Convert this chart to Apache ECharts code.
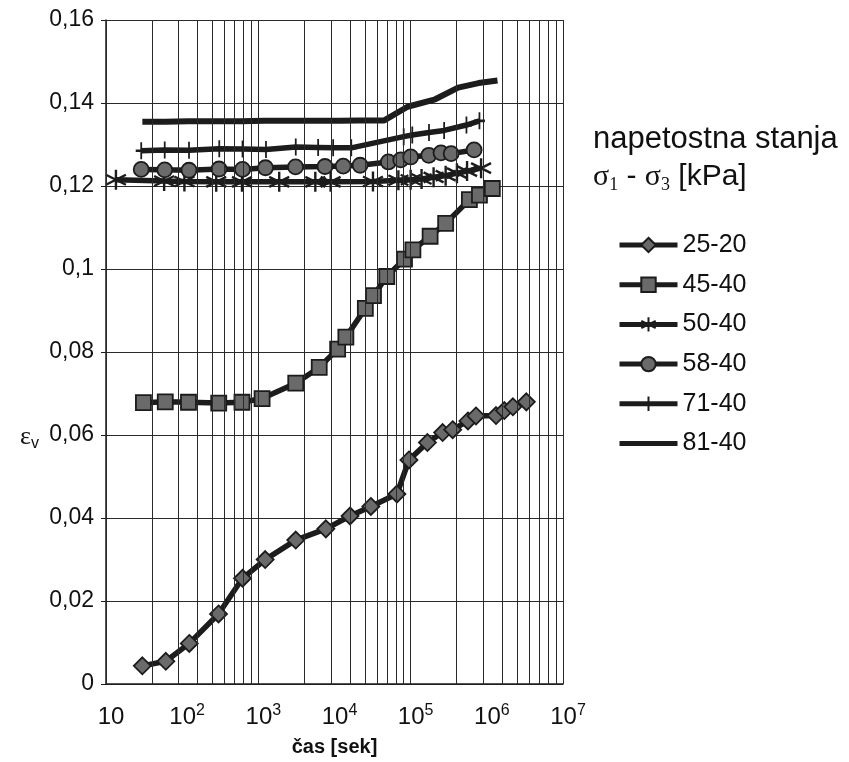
<!DOCTYPE html>
<html>
<head>
<meta charset="utf-8">
<script src="https://cdn.jsdelivr.net/npm/echarts@6/dist/echarts.min.js"></script>
<style>html,body{margin:0;padding:0;background:#fff}#chart{width:849px;height:762px}</style>
</head>
<body>
<div id="chart"></div>
<script>
// casi [s] in deformacije eps_v za posamezna napetostna stanja
var names = ['25-20', '45-40', '50-40', '58-40', '71-40', '81-40'];

var t2520 = [30, 61, 124, 300, 620, 1230, 3100, 7700, 16000, 30000, 66000, 95000, 166000, 263000, 356000, 565000, 720000, 1320000, 1700000, 2200000, 3300000];
var e2520 = [0.0044, 0.0055, 0.0098, 0.0169, 0.0255, 0.0300, 0.0347, 0.0374, 0.0405, 0.0428, 0.0458, 0.0540, 0.0582, 0.0606, 0.0613, 0.0634, 0.0646, 0.0647, 0.0659, 0.0668, 0.0680];

var t4540 = [31, 60, 121, 302, 610, 1120, 3100, 6300, 11000, 14100, 25400, 32500, 48600, 83000, 107000, 180000, 288000, 590000, 800000, 1180000];
var e4540 = [0.0678, 0.0680, 0.0679, 0.0677, 0.0679, 0.0688, 0.0725, 0.0763, 0.0807, 0.0836, 0.0905, 0.0936, 0.0982, 0.1024, 0.1046, 0.1079, 0.1110, 0.1167, 0.1178, 0.1194];

var t5040 = [13.5, 58, 107, 280, 610, 1880, 5600, 8900, 32000, 69000, 100000, 139000, 200000, 288000, 405000, 550000, 840000];
var e5040 = [0.1215, 0.1212, 0.1211, 0.1210, 0.1210, 0.1210, 0.1210, 0.1210, 0.1211, 0.1214, 0.1215, 0.1217, 0.1221, 0.1225, 0.1231, 0.1236, 0.1243];

var t5840 = [29, 59, 123, 305, 620, 1240, 3080, 7500, 13000, 21700, 51000, 74000, 100000, 173000, 250000, 340000, 680000];
var e5840 = [0.1240, 0.1239, 0.1238, 0.1241, 0.1240, 0.1244, 0.1246, 0.1247, 0.1248, 0.1250, 0.1258, 0.1263, 0.1270, 0.1274, 0.1280, 0.1278, 0.1287];

var t7140 = [29, 59, 123, 307, 620, 1260, 3100, 6100, 9600, 16600, 81000, 105000, 174000, 275000, 540000, 800000];
var e7140 = [0.1285, 0.1287, 0.1286, 0.1290, 0.1289, 0.1288, 0.1294, 0.1293, 0.1292, 0.1292, 0.1319, 0.1323, 0.1329, 0.1334, 0.1347, 0.1357];

var t8140 = [30, 60, 120, 300, 600, 1200, 3000, 6000, 12000, 20000, 45000, 91000, 210000, 420000, 780000, 1380000];
var e8140 = [0.1355, 0.1355, 0.1356, 0.1356, 0.1356, 0.1357, 0.1357, 0.1357, 0.1357, 0.1358, 0.1358, 0.1391, 0.1409, 0.1437, 0.1448, 0.1454];

function pairs(t, e) {
    var out = [];
    for (var i = 0; i < t.length; i++) out.push([t[i], e[i]]);
    return out;
}

// mreza: cikli po dveh dekadah (kot v originalu)
var gridLines = [];
[10, 1000, 100000].forEach(function (b) {
    for (var k = 1; k <= 9; k++) gridLines.push({ xAxis: b * k * k });
});
gridLines.push({ xAxis: 10000000 });

var ink = '#1c1c1c';
var fill = '#6a6a6a';
var narrow = '"Liberation Sans Narrow", "Liberation Sans", Arial, sans-serif';
var sans = '"Liberation Sans", Arial, sans-serif';

function mkSeries(name, t, e, sym, size, extra) {
    var s = {
        name: name,
        type: 'line',
        data: pairs(t, e),
        symbol: sym,
        symbolSize: size,
        showAllSymbol: true,
        z: 3,
        lineStyle: { color: ink, width: 5.5 },
        itemStyle: { color: fill, borderColor: ink, borderWidth: 1.8 }
    };
    if (extra) for (var k in extra) s[k] = extra[k];
    return s;
}

var plus = 'path://M5,0L5,10M0,5L10,5';
var star = 'path://M5,0L5,10M0.7,2.5L9.3,7.5M0.7,7.5L9.3,2.5';

var legendData = names.map(function (n) {
    if (n === '81-40') return { name: n, itemStyle: { opacity: 0, borderWidth: 0 } };
    return { name: n };
});

var chart = echarts.init(document.getElementById('chart'));
chart.setOption({
    animation: false,
    backgroundColor: '#fff',
    grid: { left: 106, right: 286, top: 20, bottom: 76 },
    xAxis: {
        type: 'log',
        logBase: 10,
        min: 10,
        max: 10000000,
        splitNumber: 6,
        axisLine: { show: true, lineStyle: { color: ink, width: 1.5 } },
        axisTick: { show: false },
        splitLine: { show: false },
        minorSplitLine: { show: false },
        axisLabel: {
            margin: 18,
            padding: [0, 0, 0, 10],
            formatter: function (v) {
                var n = Math.round(Math.log10(v));
                if (n === 1) return '{b|10}';
                return '{b|10}{s|' + n + '}';
            },
            rich: {
                b: { fontSize: 24, fontFamily: narrow, color: '#111', lineHeight: 30 },
                s: { fontSize: 16, fontFamily: narrow, color: '#111', verticalAlign: 'top', lineHeight: 30, padding: [0, 0, 14, 0] }
            }
        },
        name: 'čas [sek]',
        nameLocation: 'middle',
        nameGap: 52,
        nameTextStyle: { fontSize: 20, fontWeight: 'bold', fontFamily: sans, color: '#111' }
    },
    yAxis: {
        type: 'value',
        min: 0,
        max: 0.16,
        interval: 0.02,
        axisLine: { show: true, lineStyle: { color: ink, width: 1.5 } },
        axisTick: { show: true, length: 5, lineStyle: { color: ink } },
        splitLine: { show: true, lineStyle: { color: '#2a2a2a', width: 1 } },
        axisLabel: {
            margin: 12,
            fontSize: 23,
            fontFamily: sans,
            color: '#111',
            formatter: function (v) {
                return String(Math.round(v * 100) / 100).replace('.', ',');
            }
        }
    },
    legend: {
        data: legendData,
        orient: 'vertical',
        left: 612,
        top: 227,
        itemWidth: 58,
        itemHeight: 18,
        itemGap: 13.7,
        lineStyle: { width: 5 },
        textStyle: { fontSize: 25, lineHeight: 26, fontFamily: narrow, color: '#111' }
    },
    graphic: [
        {
            type: 'text', left: 593, top: 124,
            style: { text: 'napetostna stanja', fontSize: 31, fontFamily: sans, fill: '#111' }
        },
        {
            type: 'text', left: 593, top: 162,
            style: {
                text: '{g|σ}{n|1}{t| - }{g|σ}{n|3}{t| [kPa]}',
                rich: {
                    g: { fontSize: 30, fontFamily: '"Liberation Serif", serif', fill: '#111', lineHeight: 34 },
                    n: { fontSize: 18, fontFamily: '"Liberation Serif", serif', fill: '#111', verticalAlign: 'bottom', lineHeight: 34, padding: [10, 0, 0, 0] },
                    t: { fontSize: 30, fontFamily: sans, fill: '#111', lineHeight: 34 }
                }
            }
        },
        {
            type: 'text', left: 20, top: 424,
            style: {
                text: '{e|ε}{v|v}',
                rich: {
                    e: { fontSize: 26, fontFamily: '"Liberation Serif", serif', fill: '#111', lineHeight: 30 },
                    v: { fontSize: 16, fontFamily: sans, fill: '#111', verticalAlign: 'bottom', lineHeight: 30, padding: [10, 0, 0, 0] }
                }
            }
        }
    ],
    series: [
        {
            name: 'grid',
            type: 'line',
            data: [],
            z: 1,
            silent: true,
            markLine: {
                silent: true,
                symbol: 'none',
                label: { show: false },
                lineStyle: { color: '#2a2a2a', width: 1, type: 'solid' },
                data: gridLines
            }
        },
        mkSeries('25-20', t2520, e2520, 'diamond', 17),
        mkSeries('45-40', t4540, e4540, 'rect', 15),
        mkSeries('50-40', t5040, e5040, star, 20, { itemStyle: { color: ink, borderColor: ink, borderWidth: 2.4 } }),
        mkSeries('58-40', t5840, e5840, 'circle', 15),
        mkSeries('71-40', t7140, e7140, plus, [11, 17], { itemStyle: { color: ink, borderColor: ink, borderWidth: 2.2 } }),
        mkSeries('81-40', t8140, e8140, 'none', 0, { lineStyle: { color: ink, width: 6 } })
    ]
});
</script>
</body>
</html>
